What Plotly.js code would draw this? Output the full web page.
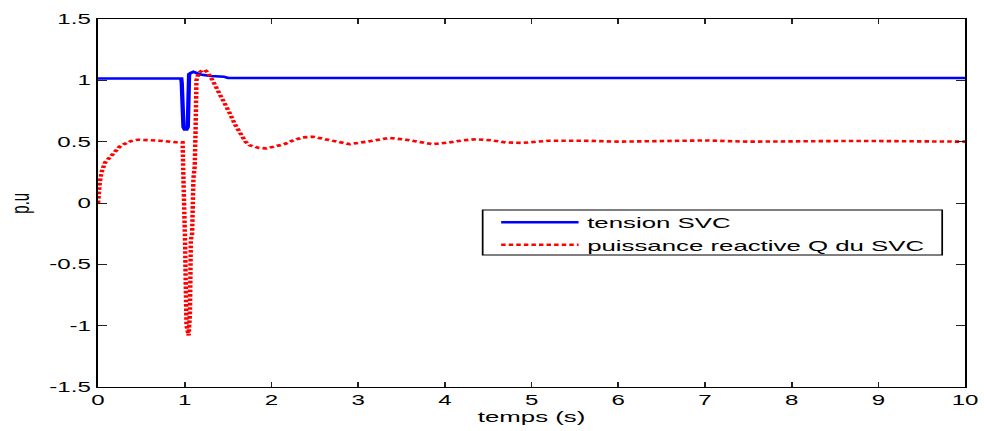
<!DOCTYPE html>
<html>
<head>
<meta charset="utf-8">
<script src="https://cdn.plot.ly/plotly-3.0.1.min.js"></script>
<style>
  html, body { margin: 0; padding: 0; overflow: hidden; background: #fff; }
  #chart { width: 572px; height: 431px; transform-origin: 0 0; }
</style>
</head>
<body>
<div id="chart"></div>
<script>
// Series: tension SVC (blue)
const tensionT = [0, 0.96, 0.965, 0.975, 0.985, 1.0, 1.02, 1.035, 1.04, 1.045, 1.05, 1.07, 1.1, 1.15, 1.2, 1.3, 1.45, 1.5, 10];
const tensionV = [1.015, 1.015, 0.98, 0.70, 0.62, 0.60, 0.60, 0.62, 0.90, 0.95, 1.05, 1.06, 1.07, 1.055, 1.045, 1.035, 1.03, 1.02, 1.02];

// Series: puissance reactive Q du SVC (red dotted)
const puissanceT = [0, 0.005, 0.02, 0.04, 0.06, 0.08, 0.12, 0.16, 0.2, 0.25, 0.3, 0.38, 0.46, 0.6, 0.71, 0.9, 0.975,
  0.985, 0.99, 1.005, 1.01, 1.02, 1.045, 1.06, 1.07, 1.085, 1.10, 1.115, 1.125, 1.135, 1.16, 1.2, 1.23, 1.27, 1.32,
  1.36, 1.4, 1.46, 1.52, 1.58, 1.64, 1.7, 1.75, 1.85, 1.94, 2.05, 2.15, 2.25, 2.36, 2.48, 2.63, 2.75, 2.9, 3.1,
  3.25, 3.36, 3.55, 3.7, 3.86, 4.05, 4.2, 4.36, 4.55, 4.7, 4.9, 5.2, 5.6, 6, 6.5, 7, 7.5, 8, 8.5, 9, 9.5, 10];
const puissanceV = [0, 0.08, 0.17, 0.25, 0.30, 0.33, 0.36, 0.39, 0.43, 0.46, 0.48, 0.505, 0.516, 0.512, 0.508, 0.495, 0.495,
  0.2, -0.3, -0.35, -0.6, -1.0, -1.08, -0.9, -0.3, -0.25, 0.2, 0.3, 0.6, 1.0, 1.06, 1.08, 1.085, 1.06, 1.0,
  0.95, 0.9, 0.82, 0.73, 0.64, 0.56, 0.5, 0.47, 0.45, 0.445, 0.46, 0.48, 0.51, 0.535, 0.54, 0.52, 0.5, 0.48, 0.5,
  0.52, 0.53, 0.516, 0.5, 0.48, 0.494, 0.51, 0.52, 0.51, 0.494, 0.49, 0.508, 0.508, 0.5, 0.505, 0.51, 0.5, 0.505, 0.505, 0.505, 0.5, 0.5];

// Axis ticks
const xTicks = [0, 1, 2, 3, 4, 5, 6, 7, 8, 9, 10];
const xTickLabels = ['0', '1', '2', '3', '4', '5', '6', '7', '8', '9', '10'];
const yTicks = [-1.5, -1, -0.5, 0, 0.5, 1, 1.5];
const yTickLabels = ['-1.5', '-1', '-0.5', '0', '0.5', '1', '1.5'];

const traces = [
  { x: tensionT, y: tensionV, type: 'scatter', mode: 'lines', name: 'tension SVC',
    line: { color: '#0000ff', width: 2.5 } },
  { x: puissanceT, y: puissanceV, type: 'scatter', mode: 'lines', name: 'puissance reactive Q du SVC',
    line: { color: '#ff0000', width: 2.6, dash: '2.6px,1.8px' } }
];

const FONT = 'Liberation Sans, Arial, Helvetica, sans-serif';
const axisCommon = {
  showgrid: false, zeroline: false, showline: true, linecolor: '#000', linewidth: 1.4,
  mirror: 'ticks', ticks: 'inside', ticklen: 5, tickwidth: 1, tickcolor: '#222',
  tickfont: { family: FONT, size: 14, color: '#000' }
};

const layout = {
  width: 572, height: 431,
  margin: { l: 57, r: 10.5, t: 19, b: 44 },
  paper_bgcolor: '#fff', plot_bgcolor: '#fff',
  showlegend: true,
  legend: {
    x: 0.455, y: 0.492, xanchor: 'left', yanchor: 'top',
    bgcolor: 'rgba(0,0,0,0)', borderwidth: 0,
    itemwidth: 45,
    font: { family: FONT, size: 15, color: '#000' },
    tracegroupgap: 0
  },
  shapes: [
    { type: 'rect', xref: 'paper', yref: 'paper', x0: 0.4436, x1: 0.9736, y0: 0.3587, y1: 0.481,
      line: { color: '#000', width: 1 }, fillcolor: '#fff', layer: 'below' }
  ],
  annotations: [
    { text: 'p.u', xref: 'paper', yref: 'paper', x: -0.092, y: 0.5, xanchor: 'center', yanchor: 'middle',
      textangle: -90, showarrow: false, font: { family: FONT, size: 15, color: '#000' } }
  ],
  xaxis: Object.assign({}, axisCommon, {
    range: [0, 10], tickvals: xTicks, ticktext: xTickLabels,
    title: { text: 'temps (s)', font: { family: FONT, size: 15, color: '#000' }, standoff: 4 }
  }),
  yaxis: Object.assign({}, axisCommon, {
    range: [-1.5, 1.5], tickvals: yTicks, ticktext: yTickLabels
  })
};

Plotly.newPlot('chart', traces, layout, { staticPlot: true, displayModeBar: false }).then(function () {
  document.getElementById('chart').style.transform = 'scaleX(' + (984 / 572) + ')';
});
</script>
</body>
</html>
